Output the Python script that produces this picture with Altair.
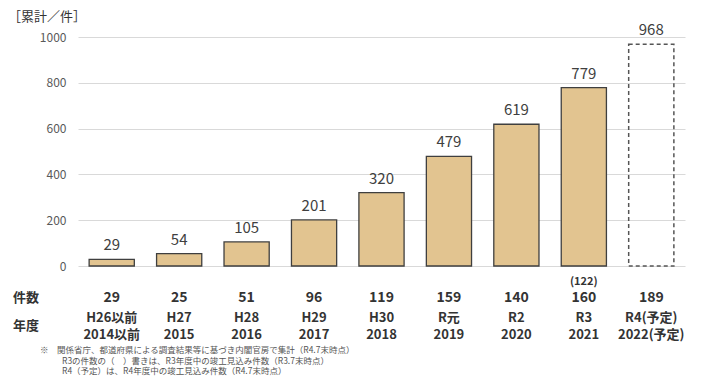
import altair as alt
import pandas as pd

categories = ["H26以前", "H27", "H28", "H29", "H30", "R元", "R2", "R3", "R4"]
cumulative = [29, 54, 105, 201, 320, 479, 619, 779, 968]
counts = ["29", "25", "51", "96", "119", "159", "140", "160", "189"]
count_notes = ["", "", "", "", "", "", "", "(122)", ""]
year_jp = ["H26以前", "H27", "H28", "H29", "H30", "R元", "R2", "R3", "R4(予定)"]
year_ad = ["2014以前", "2015", "2016", "2017", "2018", "2019", "2020", "2021", "2022(予定)"]
planned = [False] * 8 + [True]
y_ticks = [0, 200, 400, 600, 800, 1000]
title_text = "［累計／件］"
row_labels = ["件数", "年度"]
footnotes = [
    "※　関係省庁、都道府県による調査結果等に基づき内閣官房で集計（R4.7末時点）",
    "R3の件数の（　）書きは、R3年度中の竣工見込み件数（R3.7末時点）",
    "R4（予定）は、R4年度中の竣工見込み件数（R4.7末時点）",
]

df = pd.DataFrame({
    "cat": categories,
    "value": cumulative,
    "count": counts,
    "note": count_notes,
    "jp": year_jp,
    "ad": year_ad,
    "planned": planned,
})

FONT = "Noto Sans CJK JP"
W, H = 607, 229
TOP = 37  # page y of plot top
LEFT = 78  # page x of plot left

x = alt.X("cat:N", sort=categories,
          scale=alt.Scale(paddingInner=0.33, paddingOuter=0.165), axis=None)
y = alt.Y("value:Q", scale=alt.Scale(domain=[0, 1000], nice=False),
          axis=alt.Axis(values=y_ticks, title=None, domain=False, ticks=False, format="d",
                        labelColor="#595959", labelFontSize=12, labelPadding=12,
                        labelFont=FONT, gridColor="#d9d9d9", gridWidth=1))

base = alt.Chart(df).encode(x=x)

bars = base.transform_filter("!datum.planned").mark_bar(
    color="#E2C490", stroke="#3f3f3f", strokeWidth=1.3
).encode(y=y)

plan_bar = base.transform_filter("datum.planned").mark_bar(
    fill="white", fillOpacity=0, stroke="#555555", strokeWidth=1.5, strokeDash=[4, 3]
).encode(y=y)

labels = base.mark_text(baseline="bottom", dy=-6, fontSize=15, color="#404040", font=FONT).encode(
    y=alt.Y("value:Q"), text="value:Q"
)

count_txt = base.mark_text(fontSize=14, fontWeight="bold", color="#333333", font=FONT).encode(
    y=alt.value(298 - TOP), text="count:N"
)
note_txt = base.mark_text(fontSize=11, fontWeight="bold", color="#333333", font=FONT).encode(
    y=alt.value(282 - TOP), text="note:N"
)
jp_txt = base.mark_text(fontSize=13, fontWeight="bold", color="#333333", font=FONT).encode(
    y=alt.value(318 - TOP), text="jp:N"
)
ad_txt = base.mark_text(fontSize=13, fontWeight="bold", color="#333333", font=FONT).encode(
    y=alt.value(335 - TOP), text="ad:N"
)

rows_df = pd.DataFrame({"t": row_labels, "py": [298 - TOP, 326 - TOP]})
row_txt = alt.Chart(rows_df).mark_text(
    fontSize=13, fontWeight="bold", color="#333333", font=FONT, align="left"
).encode(x=alt.value(13 - LEFT), y=alt.Y("py:Q", scale=None), text="t:N")

title_df = pd.DataFrame({"t": [title_text]})
title_txt = alt.Chart(title_df).mark_text(
    fontSize=13, color="#333333", font=FONT, align="left"
).encode(x=alt.value(8 - LEFT), y=alt.value(17 - TOP), text="t:N")

fn_df = pd.DataFrame({"t": footnotes, "px": [40 - LEFT, 62 - LEFT, 62 - LEFT],
                      "py": [350 - TOP, 360.5 - TOP, 371 - TOP]})
fn_txt = alt.Chart(fn_df).mark_text(
    fontSize=8.5, color="#555555", font=FONT, align="left"
).encode(x=alt.X("px:Q", scale=None), y=alt.Y("py:Q", scale=None), text="t:N")

chart = alt.layer(
    bars, plan_bar, labels, count_txt, note_txt, jp_txt, ad_txt, row_txt, title_txt, fn_txt
).properties(
    width=W, height=H,
    autosize=alt.AutoSizeParams(type="none"),
    padding={"left": 70, "top": 29, "right": 20, "bottom": 111},
    background="white",
).configure_view(stroke=None)

chart.save("out.html", embed_options={"renderer": "svg", "actions": False})
